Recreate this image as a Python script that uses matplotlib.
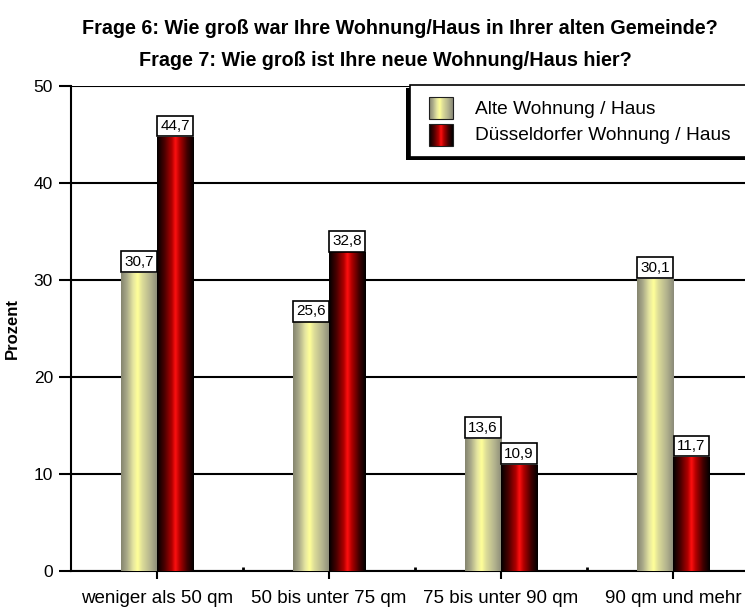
import matplotlib.pyplot as plt
import numpy as np
from matplotlib.colors import LinearSegmentedColormap
from matplotlib.patches import Rectangle

TITLE_1 = "Frage 6: Wie groß war Ihre Wohnung/Haus in Ihrer alten Gemeinde?"
TITLE_2 = "Frage 7: Wie groß ist Ihre neue Wohnung/Haus hier?"
Y_LABEL = "Prozent"

CATEGORIES = ["weniger als 50 qm", "50 bis unter 75 qm", "75 bis unter 90 qm", "90 qm und mehr"]
SERIES = ["Alte Wohnung / Haus", "Düsseldorfer Wohnung / Haus"]
ALT = [30.7, 25.6, 13.6, 30.1]
NEU = [44.7, 32.8, 10.9, 11.7]
Y_TICKS = [0, 10, 20, 30, 40, 50]

plt.rcParams["font.family"] = ["Liberation Sans", "DejaVu Sans"]

# cylinder-like shading of the two series
ALT_CMAP = LinearSegmentedColormap.from_list(
    "alt",
    [(0.0, "#85856f"), (0.15, "#a8a888"), (0.33, "#e6e6a0"), (0.45, "#ffff99"),
     (0.58, "#dcdc98"), (0.8, "#b4b48e"), (1.0, "#8a8a78")],
)
NEU_CMAP = LinearSegmentedColormap.from_list(
    "neu",
    [(0.0, "#000000"), (0.2, "#4a0000"), (0.4, "#b00000"), (0.5, "#ff1010"),
     (0.62, "#b00000"), (0.82, "#400000"), (1.0, "#000000")],
)
CMAPS = [ALT_CMAP, NEU_CMAP]

BAR_W = 0.21
W, H = 745, 610


def fmt(v):
    return f"{v:.1f}".replace(".", ",")


def gradient(ax, extent, cmap, z=3):
    grad = np.linspace(0, 1, 128).reshape(1, -1)
    ax.imshow(grad, cmap=cmap, extent=extent, aspect="auto",
              interpolation="bilinear", zorder=z)


fig = plt.figure(figsize=(W / 100, H / 100), dpi=100)
ax = fig.add_axes([71 / W, 39 / H, 688 / W, 485 / H])

x = np.arange(len(CATEGORIES))
for i, vals in enumerate([ALT, NEU]):
    offs = -BAR_W if i == 0 else 0.0
    for xi, v in zip(x, vals):
        x0 = xi + offs
        gradient(ax, (x0, x0 + BAR_W, 0, v), CMAPS[i])
        ax.annotate(fmt(v), (x0 + BAR_W / 2, v), xytext=(0, 3.2),
                    textcoords="offset points", ha="center", va="bottom",
                    fontsize=11, zorder=6,
                    bbox=dict(boxstyle="square,pad=0.22", fc="white",
                              ec="black", lw=1.2))

ax.set_xlim(-0.5, len(CATEGORIES) - 0.5)
ax.set_ylim(0, 50)
ax.set_yticks(Y_TICKS)
ax.set_xticks(x, CATEGORIES)
ax.set_xticks(x[:-1] + 0.5, minor=True)
ax.set_axisbelow(True)
ax.yaxis.grid(True, color="black", lw=1.5)
for s in ["top", "right"]:
    ax.spines[s].set_visible(False)
for s in ["left", "bottom"]:
    ax.spines[s].set_linewidth(1.5)
ax.tick_params(axis="x", which="major", direction="out", length=6, width=1.5,
               pad=8, labelsize=13.5)
ax.tick_params(axis="x", which="minor", direction="in", length=3, width=2)
ax.tick_params(axis="y", length=9, width=1.5, pad=4, labelsize=12.5)
ax.set_ylabel(Y_LABEL, fontsize=12, fontweight="bold", labelpad=10)

fig.text(400 / W, 1 - 29 / H, TITLE_1, ha="center", va="center",
         fontsize=14.2, fontweight="bold")
fig.text(385 / W, 1 - 61 / H, TITLE_2, ha="center", va="center",
         fontsize=14.2, fontweight="bold")

# legend box with drop shadow, drawn in pixel units
lax = fig.add_axes([403 / W, 1 - 163 / H, (W - 403) / W, 80 / H])
lax.set_xlim(403, W)
lax.set_ylim(163, 83)
lax.axis("off")
lax.add_patch(Rectangle((406, 88), 360, 72, fc="black", ec="none", zorder=1))
lax.add_patch(Rectangle((410, 85), 360, 72, fc="white", ec="black", lw=1.2, zorder=2))
for k, name in enumerate(SERIES):
    yc = 108 + 27 * k
    gradient(lax, (429, 453, yc + 11, yc - 11), CMAPS[k])
    lax.add_patch(Rectangle((429, yc - 11), 24, 22, fc="none", ec="#202020", lw=0.8, zorder=4))
    lax.text(475, yc + 1, name, ha="left", va="center", fontsize=13.8, zorder=4)

fig.savefig("out.png", dpi=100)
